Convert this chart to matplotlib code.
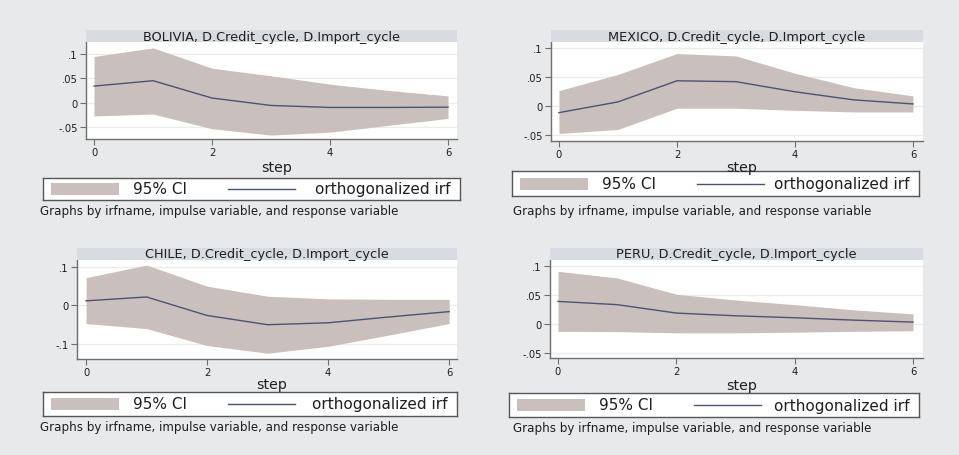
import numpy as np
import matplotlib
matplotlib.use("Agg")
import matplotlib.pyplot as plt
from matplotlib.patches import Rectangle
from matplotlib.lines import Line2D

# IRF results: impulse D.Credit_cycle -> response D.Import_cycle
steps = [0, 1, 2, 3, 4, 5, 6]

bolivia_irf = [0.034, 0.045, 0.0096, -0.0055, -0.0096, -0.0096, -0.009]
bolivia_lo = [-0.027, -0.023, -0.053, -0.066, -0.060, -0.046, -0.032]
bolivia_hi = [0.0945, 0.112, 0.0705, 0.055, 0.038, 0.025, 0.014]

mexico_irf = [-0.011, 0.0075, 0.044, 0.0425, 0.025, 0.011, 0.004]
mexico_lo = [-0.047, -0.040, -0.0034, -0.0034, -0.007, -0.0098, -0.0098]
mexico_hi = [0.027, 0.055, 0.091, 0.087, 0.057, 0.032, 0.018]

chile_irf = [0.011, 0.021, -0.027, -0.051, -0.046, -0.031, -0.017]
chile_lo = [-0.048, -0.061, -0.105, -0.125, -0.107, -0.078, -0.048]
chile_hi = [0.071, 0.104, 0.049, 0.023, 0.016, 0.015, 0.015]

peru_irf = [0.0386, 0.033, 0.0185, 0.0138, 0.0104, 0.0063, 0.0029]
peru_lo = [-0.013, -0.0135, -0.0156, -0.0156, -0.0145, -0.013, -0.012]
peru_hi = [0.0905, 0.079, 0.051, 0.041, 0.033, 0.024, 0.017]

BG = "#e8e9eb"
BAND = "#d8dce1"
FILL = "#c9bfbc"
LINE = "#4a5470"
AXIS = "#6e6e6e"
TEXT = "#1e1e1e"

W, H = 959, 456
fig = plt.figure(figsize=(W / 100, H / 100), dpi=100, facecolor=BG)
plt.rcParams["font.family"] = "DejaVu Sans"


def box(x0, y0, x1, y1):
    return [x0 / W, 1 - y1 / H, (x1 - x0) / W, (y1 - y0) / H]


panels = [
    dict(name="BOLIVIA", irf=bolivia_irf, lo=bolivia_lo, hi=bolivia_hi,
         plot=(86, 43, 457, 140), band=31, ylim=(-0.074, 0.124),
         xlim=(-0.136, 6.153),
         yticks=[-0.05, 0, 0.05, 0.1], ylabels=["-.05", "0", ".05", ".1"],
         step_y=168, leg=(43, 179, 460, 201), note=(40, 212)),
    dict(name="MEXICO", irf=mexico_irf, lo=mexico_lo, hi=mexico_hi,
         plot=(551, 43, 923, 142), band=31, ylim=(-0.060, 0.111),
         xlim=(-0.135, 6.17),
         yticks=[-0.05, 0, 0.05, 0.1], ylabels=["-.05", "0", ".05", ".1"],
         step_y=168, leg=(512, 172, 919, 197), note=(513, 211)),
    dict(name="CHILE", irf=chile_irf, lo=chile_lo, hi=chile_hi,
         plot=(77, 261, 457, 360), band=249, ylim=(-0.140, 0.117),
         xlim=(-0.15, 6.13),
         yticks=[-0.1, 0, 0.1], ylabels=["-.1", "0", ".1"],
         step_y=385, leg=(43, 393, 457, 417), note=(40, 428)),
    dict(name="PERU", irf=peru_irf, lo=peru_lo, hi=peru_hi,
         plot=(550, 261, 923, 359), band=249, ylim=(-0.059, 0.110),
         xlim=(-0.135, 6.17),
         yticks=[-0.05, 0, 0.05, 0.1], ylabels=["-.05", "0", ".05", ".1"],
         step_y=386, leg=(509, 394, 919, 418), note=(513, 429)),
]

for p in panels:
    x0, y0, x1, y1 = p["plot"]

    # plot region
    ax = fig.add_axes(box(x0, y0, x1, y1))
    ax.set_facecolor("white")
    ax.fill_between(steps, p["lo"], p["hi"], color=FILL, lw=0, zorder=2)
    ax.plot(steps, p["irf"], color=LINE, lw=1.0, zorder=3)
    ax.set_xlim(*p["xlim"])
    ax.set_ylim(*p["ylim"])
    ax.set_xticks([0, 2, 4, 6])
    ax.set_yticks(p["yticks"])
    ax.set_yticklabels(p["ylabels"])
    ax.grid(axis="y", color="#ececec", lw=1.0, zorder=1)
    for side in ("top", "right"):
        ax.spines[side].set_visible(False)
    for side in ("left", "bottom"):
        ax.spines[side].set_color(AXIS)
        ax.spines[side].set_linewidth(1.0)
    ax.tick_params(axis="both", direction="out", length=4, width=0.8,
                   color=AXIS, labelsize=7.2, labelcolor=TEXT, pad=2)

    # title band (drawn after the plot so descenders stay visible)
    bax = fig.add_axes(box(x0, p["band"], x1, y0))
    bax.set_facecolor(BAND)
    bax.set_xticks([])
    bax.set_yticks([])
    for s in bax.spines.values():
        s.set_visible(False)
    bax.text(0.5, 0.5, f"{p['name']}, D.Credit_cycle, D.Import_cycle",
             ha="center", va="center", fontsize=9.3, color=TEXT,
             transform=bax.transAxes)

    # x title
    fig.text(((x0 + x1) / 2 + 5) / W, 1 - p["step_y"] / H, "step",
             ha="center", va="center", fontsize=10.2, color=TEXT)

    # legend box
    lx0, ly0, lx1, ly1 = p["leg"]
    lax = fig.add_axes(box(lx0, ly0, lx1, ly1))
    lax.set_xlim(lx0, lx1)
    lax.set_ylim(ly1, ly0)
    lax.set_facecolor("white")
    lax.set_xticks([])
    lax.set_yticks([])
    for s in lax.spines.values():
        s.set_color("#555555")
        s.set_linewidth(1.0)
    ym = (ly0 + ly1) / 2
    lax.add_patch(Rectangle((lx0 + 8, ym - 6), 68, 12, color=FILL, lw=0))
    lax.text(lx0 + 90, ym, "95% CI", ha="left", va="center",
             fontsize=11, color=TEXT)
    lax.add_line(Line2D([lx0 + 185, lx0 + 252], [ym, ym], color=LINE, lw=1.0))
    lax.text(lx1 - 9, ym, "orthogonalized irf", ha="right", va="center",
             fontsize=11, color=TEXT)

    # by-group note
    fig.text(p["note"][0] / W, 1 - p["note"][1] / H,
             "Graphs by irfname, impulse variable, and response variable",
             ha="left", va="center", fontsize=8.6, color=TEXT)

fig.savefig("out.png", dpi=100, facecolor=BG)
